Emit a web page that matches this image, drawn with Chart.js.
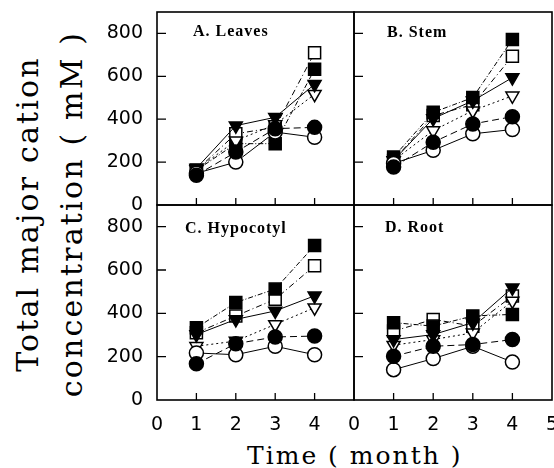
<!DOCTYPE html>
<html>
<head>
<meta charset="utf-8">
<script src="https://cdn.jsdelivr.net/npm/chart.js@4.4.1/dist/chart.umd.min.js"></script>
<style>
  body { margin: 0; background: #fff; }
  #wrap { position: relative; width: 554px; height: 468px; overflow: hidden; background: #fff; }
  #wrap canvas { position: absolute; }
  .ttl { position: absolute; font: bold 16px "Liberation Serif"; line-height: 16px; letter-spacing: 1px; color: #000; white-space: nowrap; }
  #xtitle { position: absolute; left: 247px; top: 441px; font: 25px "DejaVu Serif"; line-height: 30px; letter-spacing: 2px; white-space: nowrap; color: #000; }
  #ytitle { position: absolute; left: -160px; top: 170px; width: 420px; height: 88px; transform: rotate(-90deg);
            font: 30px "DejaVu Serif"; line-height: 44px; letter-spacing: 2.2px; text-align: center; white-space: nowrap; color: #000; }
</style>
</head>
<body>
<div id="wrap">
  <div id="ytitle">Total major cation<br>concentration ( mM )</div>
  <div id="xtitle">Time ( month )</div>
</div>
<script>
// months on the x axis and tick values
const months = [1, 2, 3, 4];
const xTickValues = [0, 1, 2, 3, 4, 5];
const yTickValues = [0, 200, 400, 600, 800];

// series order: filled circle, open circle, filled triangle, open triangle, filled square, open square
const leaves = [
  [139, 247, 356, 362],
  [148, 200, 340, 316],
  [171, 370, 409, 563],
  [165, 300, 375, 517],
  [162, 286, 286, 633],
  [162, 332, 362, 710]
];
const stem = [
  [177, 293, 378, 412],
  [194, 255, 332, 352],
  [208, 403, 486, 594],
  [208, 347, 440, 509],
  [224, 432, 501, 772],
  [208, 417, 468, 694]
];
const hypocotyl = [
  [167, 260, 291, 295],
  [217, 209, 248, 209],
  [302, 372, 411, 481],
  [248, 272, 349, 426],
  [333, 450, 512, 713],
  [310, 388, 465, 620]
];
const root = [
  [202, 248, 256, 279],
  [140, 191, 248, 175],
  [279, 302, 357, 518],
  [253, 279, 310, 457],
  [357, 341, 388, 395],
  [318, 372, 341, 480]
];

const seriesStyles = [
  { shape: 'circle',   rot: 0,   r: 7,   fill: '#000', dash: [7, 4] },
  { shape: 'circle',   rot: 0,   r: 7,   fill: '#fff', dash: [] },
  { shape: 'triangle', rot: 180, r: 7.5, fill: '#000', dash: [] },
  { shape: 'triangle', rot: 180, r: 7.5, fill: '#fff', dash: [2, 3] },
  { shape: 'rect',     rot: 0,   r: 8.5, fill: '#000', dash: [5, 2, 1, 2] },
  { shape: 'rect',     rot: 0,   r: 8.5, fill: '#fff', dash: [6, 3, 1, 3] }
];

const panels = [
  { title: 'A. Leaves',    values: leaves,    L: 157, T: 12,  R: 354, B: 205, yLabels: true,  xLabels: false, xMax: 4, tx: 193, ty: 22.6 },
  { title: 'B. Stem',      values: stem,      L: 354, T: 12,  R: 552, B: 205, yLabels: false, xLabels: false, xMax: 5, tx: 387, ty: 23.6 },
  { title: 'C. Hypocotyl', values: hypocotyl, L: 157, T: 205, R: 354, B: 400, yLabels: true,  xLabels: true,  xMax: 4, tx: 185, ty: 219.6 },
  { title: 'D. Root',      values: root,      L: 354, T: 205, R: 552, B: 400, yLabels: false, xLabels: true,  xMax: 5, tx: 385, ty: 218.6 }
];

// box around the plot area with inward ticks
const frame = {
  id: 'frame',
  afterDatasetsDraw(chart) {
    const { ctx, chartArea: a, scales: { x, y } } = chart;
    ctx.save();
    ctx.strokeStyle = '#000';
    ctx.lineWidth = 1.6;
    ctx.strokeRect(a.left, a.top, a.right - a.left, a.bottom - a.top);
    ctx.lineWidth = 1.3;
    ctx.beginPath();
    x.ticks.forEach(t => {
      if (t.value > 0 && t.value < 5) {
        const px = x.getPixelForValue(t.value);
        ctx.moveTo(px, a.bottom);
        ctx.lineTo(px, a.bottom - 7);
      }
    });
    y.ticks.forEach(t => {
      if (t.value > 0) {
        const py = y.getPixelForValue(t.value);
        ctx.moveTo(a.left, py);
        ctx.lineTo(a.left + 9, py);
      }
    });
    ctx.stroke();
    ctx.restore();
  }
};

const wrap = document.getElementById('wrap');
const tickFont = { family: 'DejaVu Sans', size: 19 };

function makePanel(p) {
  const pad = 40;
  const yW = p.yLabels ? 60 : 0;
  const xH = p.xLabels ? 40 : 0;
  const canvas = document.createElement('canvas');
  canvas.width = (p.R - p.L) + yW + 2 * pad;
  canvas.height = (p.B - p.T) + xH + 2 * pad;
  canvas.style.left = (p.L - pad - yW) + 'px';
  canvas.style.top = (p.T - pad) + 'px';
  wrap.appendChild(canvas);

  const title = document.createElement('div');
  title.className = 'ttl';
  title.textContent = p.title;
  title.style.left = p.tx + 'px';
  title.style.top = p.ty + 'px';
  wrap.appendChild(title);

  new Chart(canvas, {
    type: 'line',
    data: {
      datasets: seriesStyles.map((s, i) => ({
        data: months.map((m, j) => ({ x: m, y: p.values[i][j] })),
        borderColor: '#000',
        borderWidth: 1,
        borderDash: s.dash,
        pointStyle: s.shape,
        pointRotation: s.rot,
        pointRadius: s.r,
        pointBackgroundColor: s.fill,
        pointBorderColor: '#000',
        pointBorderWidth: 1.5,
        tension: 0
      }))
    },
    options: {
      responsive: false,
      animation: false,
      devicePixelRatio: 1,
      layout: { padding: pad },
      plugins: { legend: { display: false }, tooltip: { enabled: false } },
      scales: {
        x: {
          type: 'linear', min: 0, max: 5,
          afterBuildTicks: ax => { ax.ticks = xTickValues.filter(v => v <= p.xMax).map(v => ({ value: v })); },
          afterFit: ax => { ax.height = xH; },
          grid: { display: false, drawTicks: false },
          border: { display: false },
          ticks: { display: p.xLabels, font: tickFont, color: '#000', padding: 14, maxRotation: 0, autoSkip: false }
        },
        y: {
          type: 'linear', min: 0, max: 900,
          afterBuildTicks: ax => { ax.ticks = yTickValues.map(v => ({ value: v })); },
          afterFit: ax => { ax.width = yW; },
          grid: { display: false, drawTicks: false },
          border: { display: false },
          ticks: { display: p.yLabels, font: tickFont, color: '#000', padding: 14, autoSkip: false }
        }
      }
    },
    plugins: [frame]
  });
}

panels.forEach(makePanel);
</script>
</body>
</html>
